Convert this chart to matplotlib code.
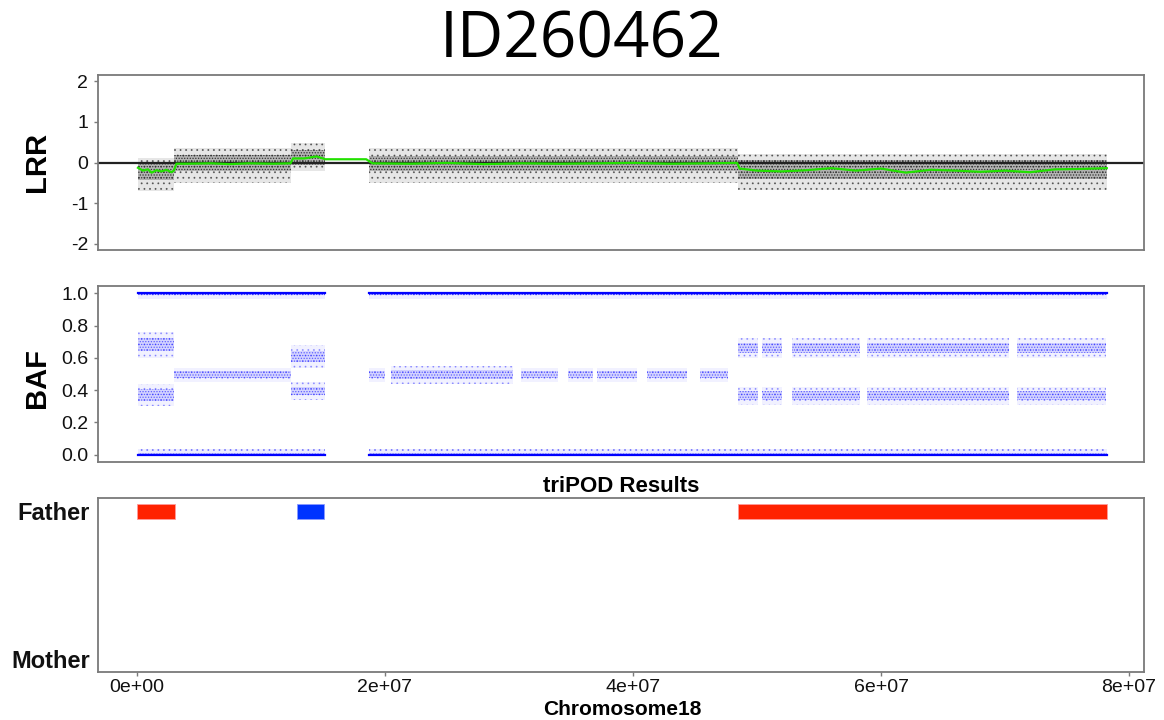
import numpy as np
import matplotlib
matplotlib.use("Agg")
import matplotlib.pyplot as plt

plt.rcParams['font.family'] = ['Liberation Sans', 'DejaVu Sans']
plt.rcParams['axes.unicode_minus'] = False
plt.rcParams['hatch.linewidth'] = 0.6

# ---- data (positions in Mb) ----
# LRR point clouds per segment: start, end, core band, outer band
lrr_start = [0.1, 3.0, 12.4, 18.7, 48.5]
lrr_end = [3.0, 12.4, 15.2, 48.5, 78.2]
lrr_core_lo = [-0.42, -0.22, -0.05, -0.20, -0.40]
lrr_core_hi = [0.00, 0.18, 0.30, 0.15, 0.06]
lrr_outer_lo = [-0.70, -0.50, -0.20, -0.50, -0.68]
lrr_outer_hi = [0.10, 0.35, 0.48, 0.35, 0.20]

# segmented LRR mean (green line)
green_x = [0.1, 0.5, 0.9, 1.2, 1.6, 2.0, 2.4, 2.8, 3.0, 3.2, 4.0, 6.0, 7.5, 9.0, 11.0,
           12.4, 12.6, 13.5, 14.5, 15.2, 18.5, 19.0, 22.0, 25.0, 28.0, 31.0, 34.0,
           37.0, 40.0, 43.0, 46.0, 48.4, 48.6, 50.0, 52.0, 54.0, 56.0, 58.0, 60.0,
           62.0, 64.0, 66.0, 68.0, 70.0, 72.0, 74.0, 76.0, 78.2]
green_y = [-0.13, -0.20, -0.17, -0.25, -0.19, -0.22, -0.18, -0.24, -0.20, -0.03, -0.03,
           -0.02, -0.04, -0.02, -0.03, -0.02, 0.10, 0.10, 0.15, 0.08, 0.08, -0.02,
           -0.03, -0.01, -0.04, -0.02, -0.03, -0.02, -0.01, -0.03, -0.02, -0.01,
           -0.15, -0.20, -0.22, -0.19, -0.14, -0.20, -0.15, -0.25, -0.18, -0.20,
           -0.23, -0.20, -0.24, -0.17, -0.16, -0.14]

# BAF homozygous stripes cover these stretches
baf_hom_start = [0.1, 18.7]
baf_hom_end = [15.2, 78.2]

# BAF heterozygous clusters: start, end, low, high
baf_het_start = [0.1, 0.1, 3.0, 12.4, 12.4,
                 18.7, 20.5, 31.0, 34.8, 37.1, 41.1, 45.4,
                 48.5, 50.4, 52.8, 58.9, 71.0,
                 48.5, 50.4, 52.8, 58.9, 71.0]
baf_het_end = [3.0, 3.0, 12.4, 15.2, 15.2,
               20.0, 30.3, 34.0, 36.8, 40.3, 44.4, 47.7,
               50.1, 52.0, 58.3, 70.3, 78.1,
               50.1, 52.0, 58.3, 70.3, 78.1]
baf_het_lo = [0.60, 0.30, 0.45, 0.54, 0.34,
              0.45, 0.44, 0.45, 0.45, 0.45, 0.45, 0.45,
              0.60, 0.60, 0.60, 0.60, 0.60,
              0.31, 0.31, 0.31, 0.31, 0.31]
baf_het_hi = [0.76, 0.44, 0.54, 0.68, 0.45,
              0.54, 0.55, 0.54, 0.54, 0.54, 0.54, 0.54,
              0.72, 0.72, 0.72, 0.72, 0.72,
              0.42, 0.42, 0.42, 0.42, 0.42]

# triPOD calls
call_start = [0.0, 12.9, 48.5]
call_end = [3.1, 15.1, 78.25]
call_parent = ["Father", "Father", "Father"]
call_color = ["#ff2200", "#0033ff", "#ff2200"]

xticks = [0, 2e7, 4e7, 6e7, 8e7]
xticklabels = ["0e+00", "2e+07", "4e+07", "6e+07", "8e+07"]

MB = 1e6
XLIM = (-3.12e6, 8.12e7)
spine_col = "#7a7a7a"

fig = plt.figure(figsize=(11.64, 7.2), dpi=100)
W, H = 1164.0, 720.0

def add_ax(top, bottom):
    ax = fig.add_axes([98 / W, 1 - bottom / H, 1046 / W, (bottom - top) / H])
    for s in ax.spines.values():
        s.set_color(spine_col)
        s.set_linewidth(1.3)
    ax.set_xlim(*XLIM)
    ax.tick_params(axis='both', colors=spine_col, labelcolor='#111111',
                   labelsize=14, length=3, width=1, pad=4)
    return ax

# speckled "cloud": a soft outer layer and a denser core
def cloud(ax, xs, out_lo, out_hi, lo, hi, col, k=1.0):
    ax.fill_between(xs, out_lo, out_hi, facecolor=col, alpha=min(0.08 * k, 1), linewidth=0)
    ax.fill_between(xs, out_lo, out_hi, facecolor='none', edgecolor=col,
                    hatch='...', linewidth=0, alpha=min(0.45 * k, 1))
    ax.fill_between(xs, lo, hi, facecolor=col, alpha=min(0.18 * k, 1), linewidth=0)
    ax.fill_between(xs, lo, hi, facecolor='none', edgecolor=col,
                    hatch='......', linewidth=0, alpha=min(0.8 * k, 1))

# ---- LRR ----
ax1 = add_ax(75, 250)
for i in range(len(lrr_start)):
    xs = [lrr_start[i] * MB, lrr_end[i] * MB]
    cloud(ax1, xs, lrr_outer_lo[i], lrr_outer_hi[i],
          lrr_core_lo[i], lrr_core_hi[i], '#333333', k=1.5)
ax1.axhline(0, color='#222222', lw=1.6)
ax1.plot([v * MB for v in green_x], green_y, color='#22e000', lw=1.6)
ax1.set_ylim(-2.16, 2.16)
ax1.set_yticks([-2, -1, 0, 1, 2])
ax1.set_xticks([])

# ---- BAF ----
ax2 = add_ax(286, 462)
for i in range(len(baf_hom_start)):
    xs = [baf_hom_start[i] * MB, baf_hom_end[i] * MB]
    cloud(ax2, xs, -0.005, 0.035, -0.003, 0.012, '#2020ff')
    cloud(ax2, xs, 0.965, 1.005, 0.988, 1.003, '#2020ff')
    ax2.plot(xs, [0.0, 0.0], color='#0000ff', lw=1.6)
    ax2.plot(xs, [1.0, 1.0], color='#0000ff', lw=1.6)
for i in range(len(baf_het_start)):
    xs = [baf_het_start[i] * MB, baf_het_end[i] * MB]
    lo, hi = baf_het_lo[i], baf_het_hi[i]
    pad = (hi - lo) * 0.25
    cloud(ax2, xs, lo, hi, lo + pad, hi - pad, '#2a2aff', k=0.8)
ax2.set_ylim(-0.045, 1.045)
ax2.set_yticks([0, 0.2, 0.4, 0.6, 0.8, 1.0])
ax2.set_yticklabels(["0.0", "0.2", "0.4", "0.6", "0.8", "1.0"])
ax2.set_xticks([])

# ---- triPOD results ----
ax3 = add_ax(498, 672)
ypos = {"Father": 1, "Mother": 0}
for i in range(len(call_start)):
    ax3.barh(ypos[call_parent[i]], (call_end[i] - call_start[i]) * MB,
             left=call_start[i] * MB, height=0.1, color=call_color[i],
             edgecolor='#ff9a9a' if call_color[i] == "#ff2200" else '#8a9aff', lw=0.6)
ax3.set_ylim(-0.09, 1.09)
ax3.set_yticks([1, 0])
ax3.set_yticklabels(["Father", "Mother"], fontsize=17, fontweight='bold')
ax3.tick_params(axis='y', length=0, pad=6)
ax3.set_xticks(xticks)
ax3.set_xticklabels(xticklabels)
ax3.tick_params(axis='x', pad=2)

# ---- text ----
fig.text(0.5, 1 - 57 / H, "ID260462", ha='center', va='baseline',
         fontsize=46, family=['Open Sans', 'DejaVu Sans'])
fig.text(37 / W, 1 - 162 / H, "LRR", rotation=90, ha='center', va='center',
         fontsize=21, fontweight='bold')
fig.text(37 / W, 1 - 378 / H, "BAF", rotation=90, ha='center', va='center',
         fontsize=21, fontweight='bold')
fig.text(621 / W, 1 - 492 / H, "triPOD Results", ha='center', va='baseline',
         fontsize=16, fontweight='bold')
fig.text(622 / W, 1 - 715 / H, "Chromosome18", ha='center', va='baseline',
         fontsize=15, fontweight='bold')

fig.savefig("out.png", dpi=100)
